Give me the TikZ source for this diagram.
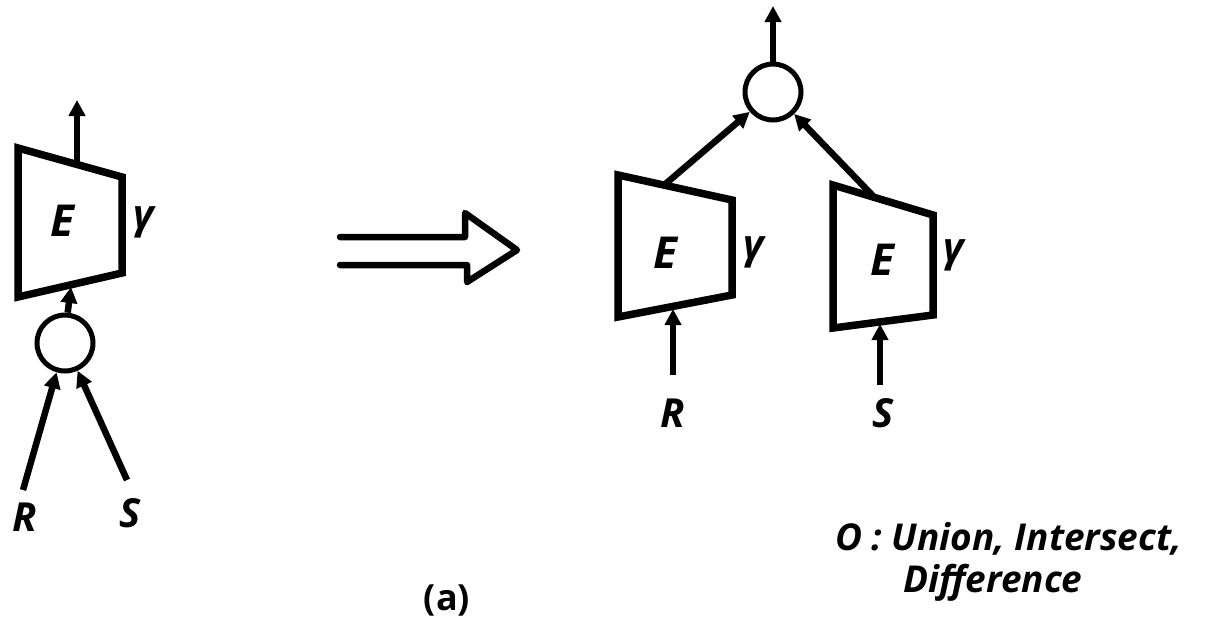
\documentclass[tikz,border=0pt]{standalone}
\usepackage{fontspec}
\setmainfont{Open Sans}
\usetikzlibrary{arrows.meta}
\begin{document}
\begin{tikzpicture}[x=1pt,y=-1pt,
  edge/.style={line width=6.5pt,-{Triangle[length=16pt,width=16pt]}},
  box/.style={line width=7.5pt,line join=miter},
  op/.style={circle,draw,line width=5pt,minimum size=56pt,inner sep=0pt},
  lbl/.style={font=\fontsize{44}{44}\selectfont\itshape\bfseries,inner sep=0pt},
  small/.style={font=\fontsize{40}{40}\selectfont\itshape\bfseries,inner sep=0pt},
  legend/.style={font=\fontsize{37}{42}\selectfont\itshape\bfseries,inner sep=0pt,anchor=base west},
]
\useasboundingbox (0,0) rectangle (1225,619);

% ---- left diagram
\draw[box] (18,148) -- (122,177) -- (122,273) -- (18,297) -- cycle;
\node[lbl] (LE) at (62,221) {E};
\node[small] (Lg) at (144,222) {γ};
\coordinate (Ltop) at (77,164);
\coordinate (Lout) at (77,100);
\draw[edge] (Ltop) -- (Lout);
\node[op] (Lc) at (65,343) {};
\coordinate (Lbot) at (71,287);
\draw[edge] (Lc.85) -- (Lbot);
\coordinate (Lr) at (23,490);
\coordinate (Ls) at (127,480);
\draw[edge] (Lr) -- (Lc);
\draw[edge] (Ls) -- (Lc);
\node[small] (LR) at (25,517) {R};
\node[small] (LS) at (130,513) {S};

% ---- transformation arrow
\draw[line width=6.5pt,line join=round,line cap=round]
  (340,237) -- (465,237) -- (465,213) -- (517,250) -- (467,282) -- (467,265) -- (340,265);

% ---- right diagram
\node[op] (Rc) at (773,92) {};
\coordinate (Rout) at (773,6);
\draw[edge] (Rc.north) -- (Rout);

\draw[box] (618,175) -- (732,200) -- (732,295) -- (618,317) -- cycle;
\node[lbl] (AE) at (665,253) {E};
\node[small] (Ag) at (754,252) {γ};
\coordinate (Atop) at (663,186);
\draw[edge] (Atop) -- (Rc);
\coordinate (Abot) at (673,309);
\coordinate (Ain) at (673,375);
\draw[edge] (Ain) -- (Abot);
\node[small] (AR) at (673,413) {R};

\draw[box] (833,185) -- (933,215) -- (933,315) -- (833,328) -- cycle;
\node[lbl] (BE) at (882,260) {E};
\node[small] (Bg) at (954,255) {γ};
\coordinate (Btop) at (875,198);
\draw[edge] (Btop) -- (Rc);
\coordinate (Bbot) at (880,324);
\coordinate (Bin) at (880,385);
\draw[edge] (Bin) -- (Bbot);
\node[small] (BS) at (883,413) {S};

% ---- legend and caption
\node[legend] (leg1) at (835,550) {O : Union, Intersect,};
\node[legend] (leg2) at (903,592) {Difference};
\node[font=\fontsize{36}{36}\selectfont\bfseries,inner sep=0pt] (cap) at (447,600) {(a)};
\end{tikzpicture}
\end{document}
